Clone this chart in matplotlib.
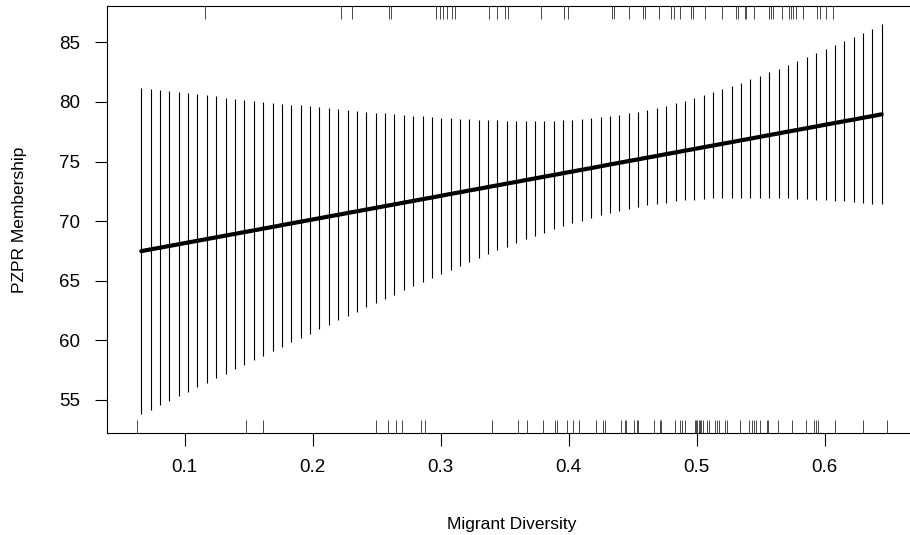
#!/usr/bin/env python3
"""
Marginal effect of migrant diversity on PZPR membership.

Fitted line with vertical confidence bars on an even grid, rug marks
along the bottom and top edges (R base-graphics look).
"""

import matplotlib
matplotlib.use("Agg")
import matplotlib.pyplot as plt
import matplotlib.transforms as mtransforms

# --- data ---
x_grid = [
    0.0661, 0.0734, 0.0807, 0.0881, 0.0954, 0.1027, 0.1100, 0.1174, 0.1247, 0.1320,
    0.1393, 0.1466, 0.1540, 0.1613, 0.1686, 0.1759, 0.1833, 0.1906, 0.1979, 0.2052,
    0.2125, 0.2199, 0.2272, 0.2345, 0.2418, 0.2492, 0.2565, 0.2638, 0.2711, 0.2784,
    0.2858, 0.2931, 0.3004, 0.3077, 0.3150, 0.3224, 0.3297, 0.3370, 0.3443, 0.3517,
    0.3590, 0.3663, 0.3736, 0.3809, 0.3883, 0.3956, 0.4029, 0.4102, 0.4176, 0.4249,
    0.4322, 0.4395, 0.4468, 0.4542, 0.4615, 0.4688, 0.4761, 0.4835, 0.4908, 0.4981,
    0.5054, 0.5127, 0.5201, 0.5274, 0.5347, 0.5420, 0.5493, 0.5567, 0.5640, 0.5713,
    0.5786, 0.5860, 0.5933, 0.6006, 0.6079, 0.6152, 0.6226, 0.6299, 0.6372, 0.6445,
]
fit = [
    67.48, 67.63, 67.77, 67.92, 68.06, 68.21, 68.35, 68.50, 68.64, 68.79,
    68.93, 69.08, 69.22, 69.37, 69.51, 69.66, 69.81, 69.95, 70.10, 70.24,
    70.39, 70.53, 70.68, 70.82, 70.97, 71.11, 71.26, 71.40, 71.55, 71.69,
    71.84, 71.98, 72.13, 72.28, 72.42, 72.57, 72.71, 72.86, 73.00, 73.15,
    73.29, 73.44, 73.58, 73.73, 73.87, 74.02, 74.16, 74.31, 74.45, 74.60,
    74.75, 74.89, 75.04, 75.18, 75.33, 75.47, 75.62, 75.76, 75.91, 76.05,
    76.20, 76.34, 76.49, 76.63, 76.78, 76.92, 77.07, 77.22, 77.36, 77.51,
    77.65, 77.80, 77.94, 78.09, 78.23, 78.38, 78.52, 78.67, 78.81, 78.96,
]
ci_low = [
    53.79, 54.17, 54.55, 54.93, 55.31, 55.69, 56.07, 56.45, 56.83, 57.21,
    57.58, 57.96, 58.34, 58.71, 59.08, 59.46, 59.83, 60.20, 60.57, 60.94,
    61.31, 61.67, 62.04, 62.40, 62.76, 63.12, 63.48, 63.84, 64.19, 64.54,
    64.89, 65.24, 65.58, 65.92, 66.26, 66.59, 66.91, 67.24, 67.55, 67.86,
    68.17, 68.46, 68.75, 69.03, 69.30, 69.56, 69.81, 70.05, 70.28, 70.49,
    70.69, 70.87, 71.04, 71.19, 71.33, 71.46, 71.56, 71.66, 71.74, 71.80,
    71.86, 71.90, 71.93, 71.95, 71.96, 71.96, 71.96, 71.94, 71.93, 71.90,
    71.87, 71.83, 71.79, 71.75, 71.70, 71.65, 71.59, 71.53, 71.47, 71.41,
]
ci_high = [
    81.17, 81.08, 80.99, 80.90, 80.81, 80.72, 80.63, 80.54, 80.46, 80.37,
    80.28, 80.20, 80.11, 80.03, 79.94, 79.86, 79.78, 79.70, 79.62, 79.54,
    79.47, 79.39, 79.31, 79.24, 79.17, 79.10, 79.03, 78.97, 78.91, 78.84,
    78.79, 78.73, 78.68, 78.63, 78.58, 78.54, 78.51, 78.48, 78.45, 78.43,
    78.42, 78.41, 78.41, 78.42, 78.44, 78.47, 78.51, 78.57, 78.63, 78.71,
    78.80, 78.91, 79.03, 79.17, 79.32, 79.49, 79.67, 79.87, 80.08, 80.30,
    80.54, 80.79, 81.05, 81.32, 81.60, 81.89, 82.18, 82.49, 82.80, 83.11,
    83.43, 83.76, 84.09, 84.43, 84.77, 85.11, 85.45, 85.80, 86.15, 86.51,
]

rug_bottom = [
    0.0625, 0.1477, 0.1614, 0.2495, 0.2591, 0.2653, 0.2698, 0.2844, 0.2877, 0.3401,
    0.3604, 0.3672, 0.3797, 0.3891, 0.3906, 0.3984, 0.4031, 0.4078, 0.4213, 0.4270,
    0.4281, 0.4406, 0.4438, 0.4448, 0.4510, 0.4531, 0.4541, 0.4666, 0.4713, 0.4724,
    0.4833, 0.4870, 0.4885, 0.4911, 0.4984, 0.4995, 0.5005, 0.5016, 0.5026, 0.5036,
    0.5047, 0.5078, 0.5094, 0.5141, 0.5156, 0.5172, 0.5223, 0.5234, 0.5338, 0.5411,
    0.5432, 0.5448, 0.5463, 0.5495, 0.5547, 0.5557, 0.5635, 0.5745, 0.5854, 0.5917,
    0.5932, 0.5948, 0.6083, 0.6297, 0.6484,
]
rug_top = [
    0.1161, 0.2224, 0.2310, 0.2594, 0.2609, 0.2963, 0.2995, 0.3020, 0.3047, 0.3086,
    0.3114, 0.3380, 0.3442, 0.3505, 0.3526, 0.3786, 0.3963, 0.3995, 0.4338, 0.4354,
    0.4474, 0.4578, 0.4594, 0.4708, 0.4802, 0.4823, 0.4870, 0.4958, 0.4974, 0.5063,
    0.5198, 0.5307, 0.5323, 0.5375, 0.5385, 0.5448, 0.5562, 0.5578, 0.5599, 0.5666,
    0.5719, 0.5734, 0.5755, 0.5776, 0.5833, 0.5938, 0.5963, 0.6010, 0.6067,
]

x_ticks = [0.1, 0.2, 0.3, 0.4, 0.5, 0.6]
y_ticks = [55, 60, 65, 70, 75, 80, 85]


def main():
    plt.rcParams["font.family"] = ["Liberation Sans", "DejaVu Sans"]
    plt.rcParams["font.size"] = 12.5

    fig = plt.figure(figsize=(9.1, 5.35), dpi=100)
    # right edge of the box sits just past the canvas, like the reference crop
    ax = fig.add_axes([0.1173, 0.1912, 0.8900, 0.7970])

    # confidence bars
    ax.vlines(x_grid, ci_low, ci_high, colors="black", linewidth=0.8)
    # fitted line
    ax.plot(x_grid, fit, color="black", linewidth=3.0, solid_capstyle="round")

    # rugs: data x, axes-fraction y
    trans = mtransforms.blended_transform_factory(ax.transData, ax.transAxes)
    ax.vlines(rug_bottom, 0.0, 0.03, transform=trans, colors="black", linewidth=0.5)
    ax.vlines(rug_top, 0.97, 1.0, transform=trans, colors="black", linewidth=0.5)

    ax.set_xlim(0.0391, 0.6718)
    ax.set_ylim(52.25, 88.02)
    ax.set_xticks(x_ticks)
    ax.set_xticklabels([f"{t:.1f}" for t in x_ticks])
    ax.set_yticks(y_ticks)

    for side in ax.spines.values():
        side.set_linewidth(0.8)
        side.set_color("black")
    ax.tick_params(direction="out", length=9, width=0.8, pad=10,
                   colors="black", labelsize=13.5)

    ax.set_xlabel("Migrant Diversity")
    ax.set_ylabel("PZPR Membership")
    ax.xaxis.set_label_coords(0.5, -0.197)
    ax.yaxis.set_label_coords(-0.098, 0.5)

    fig.savefig("out.png", dpi=100)
    plt.close(fig)


if __name__ == "__main__":
    main()
